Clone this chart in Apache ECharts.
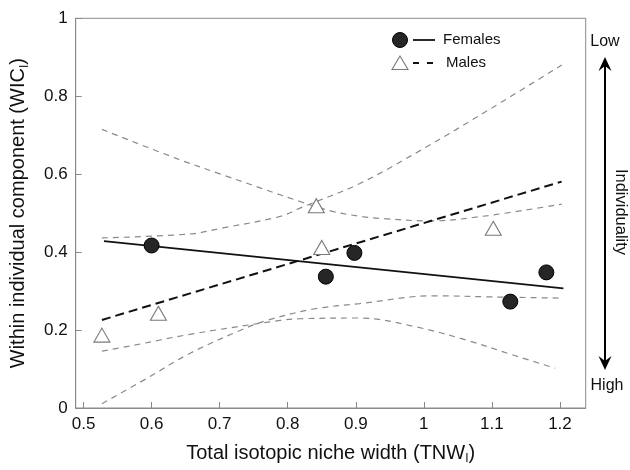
<!DOCTYPE html>
<html>
<head>
<meta charset="utf-8">
<script src="https://cdn.jsdelivr.net/npm/echarts@6/dist/echarts.min.js"></script>
<style>html,body{margin:0;padding:0;background:#fff;}#c{width:630px;height:470px;}</style>
</head>
<body>
<div id="c"></div>
<script>
// ---- data ----
const xTicks = [0.5, 0.6, 0.7, 0.8, 0.9, 1.0, 1.1, 1.2];
const femalesX = [0.600, 0.856, 0.898, 1.127, 1.180];
const femalesY = [0.417, 0.337, 0.398, 0.273, 0.348];
const malesX = [0.527, 0.610, 0.842, 0.850, 1.102];
const malesY = [0.187, 0.243, 0.519, 0.412, 0.461];
const femaleFit = [[0.530, 0.428], [1.205, 0.307]];
const maleFit = [[0.527, 0.226], [1.2025, 0.581]];
const femaleUpper = [[0.527,0.715],[0.637,0.640],[0.705,0.598],[0.818,0.530],[0.867,0.504],[0.906,0.492],[0.940,0.486],[1.009,0.480],[1.087,0.492],[1.2025,0.523]];
const femaleLower = [[0.527,0.146],[0.568,0.159],[0.656,0.189],[0.789,0.2247],[0.818,0.229],[0.906,0.231],[0.989,0.208],[1.063,0.174],[1.131,0.136],[1.193,0.102]];
const maleUpper = [[0.527,0.4365],[0.656,0.4465],[0.705,0.462],[0.789,0.4916],[0.818,0.513],[0.906,0.576],[0.999,0.665],[1.100,0.770],[1.2025,0.880]];
const maleLower = [[0.527,0.011],[0.593,0.076],[0.656,0.140],[0.730,0.199],[0.769,0.2247],[0.838,0.254],[0.906,0.268],[1.014,0.288],[1.100,0.285],[1.2025,0.282]];

const FONT = "'Liberation Sans', Arial, Helvetica, sans-serif";
const females = femalesX.map((x, i) => [x, femalesY[i]]);
const males = malesX.map((x, i) => [x, malesY[i]]);

const ciStyle = {color: '#8a8a8a', width: 1.2, type: [6, 5]};
function ci(data) {
  return {type: 'line', data: data, smooth: 0.35, symbol: 'none', lineStyle: ciStyle, silent: true, z: 2};
}

const chart = echarts.init(document.getElementById('c'), null, {renderer: 'canvas'});
chart.setOption({
  animation: false,
  backgroundColor: '#fff',
  grid: {left: 75.7, top: 18.3, width: 510, height: 393.4, show: true, borderColor: '#8a8a8a', borderWidth: 1, backgroundColor: 'transparent'},
  xAxis: {
    type: 'value', min: 0.4885, max: 1.2378,
    axisLine: {show: true, lineStyle: {color: '#8a8a8a', width: 1}},
    axisTick: {show: true, inside: true, length: 6, customValues: xTicks, lineStyle: {color: '#8a8a8a'}},
    axisLabel: {customValues: xTicks, color: '#111', fontFamily: FONT, fontSize: 17, margin: 8},
    splitLine: {show: false},
    name: '{a|Total isotopic niche width (TNW}{s|I}{a|)}',
    nameLocation: 'middle', nameGap: 33,
    nameTextStyle: {rich: {
      a: {fontFamily: FONT, fontSize: 20, color: '#111', lineHeight: 24},
      s: {fontFamily: FONT, fontSize: 12, color: '#111', verticalAlign: 'bottom', lineHeight: 12}
    }}
  },
  yAxis: {
    type: 'value', min: 0, max: 1, interval: 0.2,
    axisLine: {show: true, lineStyle: {color: '#8a8a8a', width: 1}},
    axisTick: {show: true, inside: true, length: 6, lineStyle: {color: '#8a8a8a'}},
    axisLabel: {color: '#111', fontFamily: FONT, fontSize: 17, margin: 8},
    splitLine: {show: false},
    name: '{a|Within individual component (WIC}{s|I}{a|)}',
    nameLocation: 'middle', nameGap: 45,
    nameTextStyle: {rich: {
      a: {fontFamily: FONT, fontSize: 20, color: '#111', lineHeight: 24},
      s: {fontFamily: FONT, fontSize: 12, color: '#111', verticalAlign: 'bottom', lineHeight: 12}
    }}
  },
  series: [
    ci(femaleUpper), ci(femaleLower), ci(maleUpper), ci(maleLower),
    {type: 'line', data: femaleFit, symbol: 'none', lineStyle: {color: '#111', width: 1.8, type: 'solid'}, z: 3},
    {type: 'line', data: maleFit, symbol: 'none', lineStyle: {color: '#111', width: 2, type: [9, 5]}, z: 3},
    {type: 'scatter', data: females, symbol: 'circle', symbolSize: 15,
     itemStyle: {color: '#262626', borderColor: '#000', borderWidth: 1, opacity: 1}, z: 5},
    {type: 'scatter', data: males, symbol: 'triangle', symbolSize: [16, 14],
     itemStyle: {color: '#fff', borderColor: '#7a7a7a', borderWidth: 1.1, opacity: 1}, z: 5}
  ],
  graphic: [
    // legend
    {type: 'circle', shape: {cx: 400, cy: 40, r: 7.5}, style: {fill: '#262626', stroke: '#000', lineWidth: 1}},
    {type: 'line', shape: {x1: 413, y1: 40, x2: 435, y2: 40}, style: {stroke: '#111', lineWidth: 1.8}},
    {type: 'text', x: 443, y: 40, style: {text: 'Females', font: '15px ' + FONT, fill: '#111', verticalAlign: 'middle', align: 'left'}},
    {type: 'polygon', shape: {points: [[400, 56], [392, 69.5], [408, 69.5]]}, style: {fill: '#fff', stroke: '#7a7a7a', lineWidth: 1.1}},
    {type: 'line', shape: {x1: 413, y1: 63, x2: 435, y2: 63}, style: {stroke: '#111', lineWidth: 1.8, lineDash: [6, 8]}},
    {type: 'text', x: 446, y: 63, style: {text: 'Males', font: '15px ' + FONT, fill: '#111', verticalAlign: 'middle', align: 'left'}},
    // right annotation
    {type: 'text', x: 605, y: 42, style: {text: 'Low', font: '16px ' + FONT, fill: '#111', verticalAlign: 'middle', align: 'center'}},
    {type: 'text', x: 607, y: 386, style: {text: 'High', font: '16px ' + FONT, fill: '#111', verticalAlign: 'middle', align: 'center'}},
    {type: 'line', shape: {x1: 605, y1: 63, x2: 605, y2: 364}, style: {stroke: '#000', lineWidth: 2}},
    {type: 'polygon', shape: {points: [[605, 57], [598.5, 71], [605, 66], [611.5, 71]]}, style: {fill: '#000'}},
    {type: 'polygon', shape: {points: [[605, 370], [598.5, 356], [605, 361], [611.5, 356]]}, style: {fill: '#000'}},
    {type: 'text', x: 621, y: 212, rotation: -Math.PI / 2, style: {text: 'Individuality', font: '16.5px ' + FONT, fill: '#111', verticalAlign: 'middle', align: 'center'}}
  ]
});
</script>
</body>
</html>
